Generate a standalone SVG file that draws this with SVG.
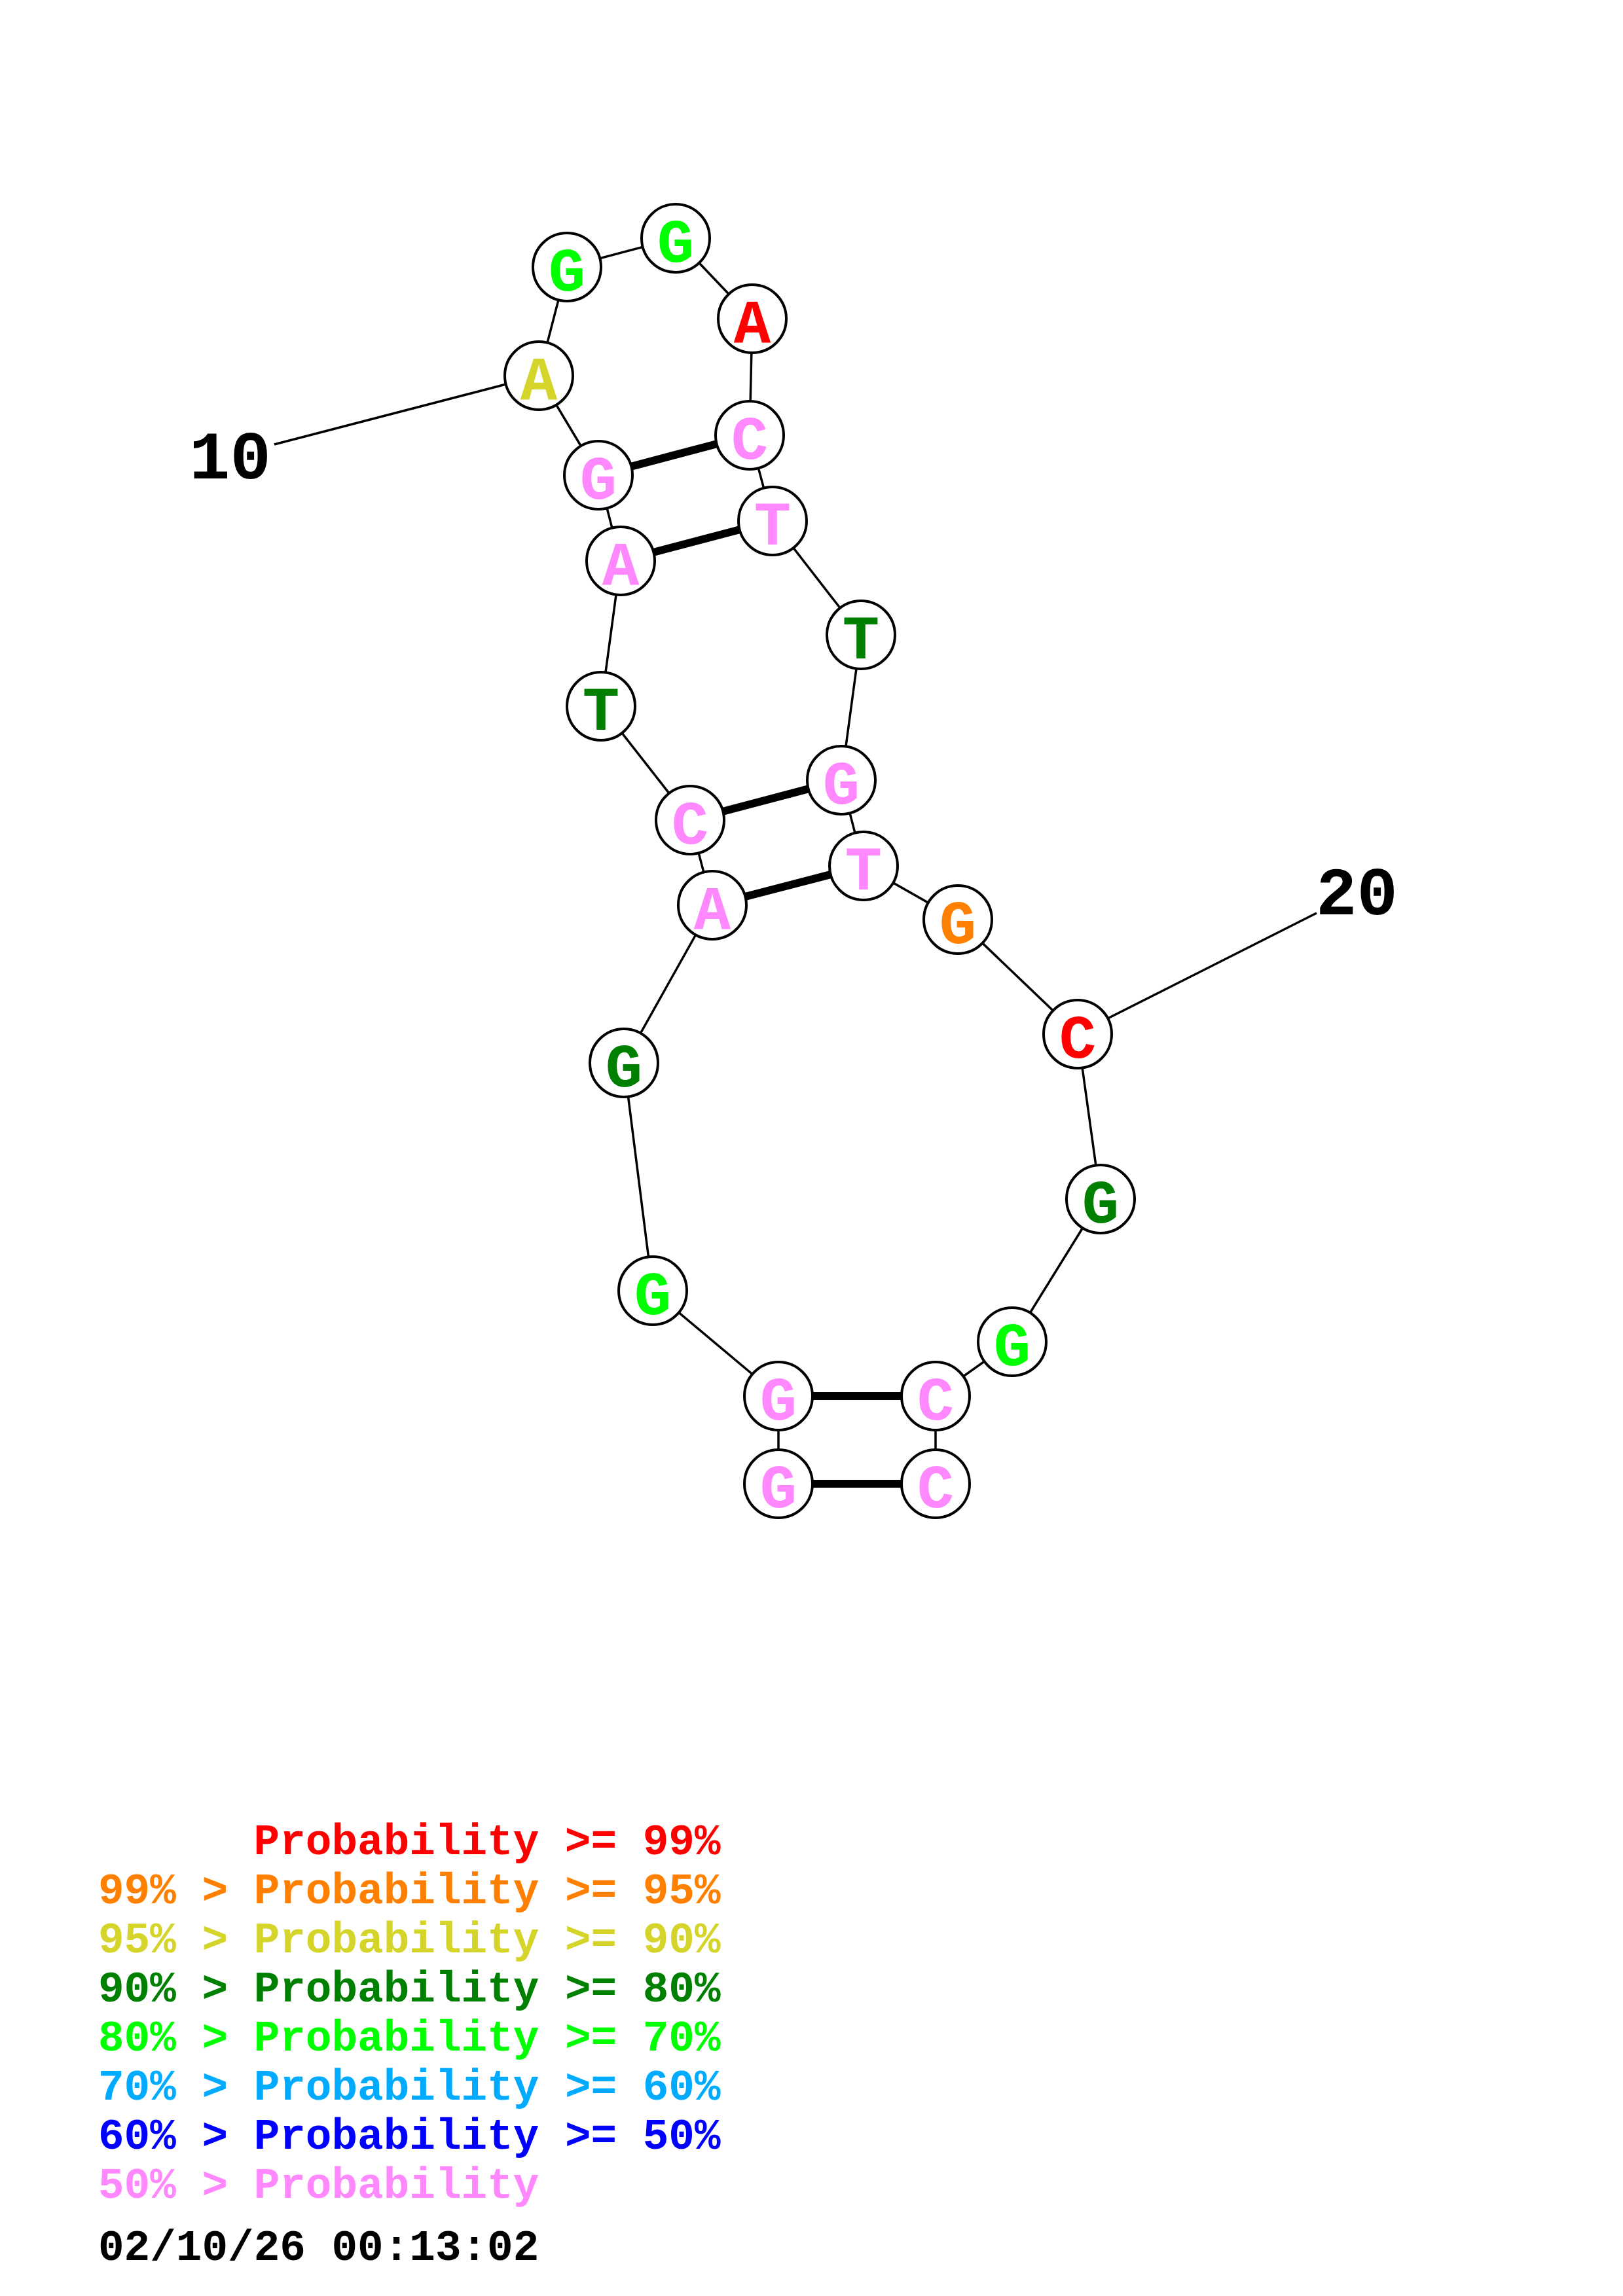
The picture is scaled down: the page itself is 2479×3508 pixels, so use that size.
<svg xmlns="http://www.w3.org/2000/svg" width="2479" height="3508" viewBox="0 0 2479 3508">
<style>
.bb{stroke:#000;stroke-width:3.5;fill:none}
.bp{stroke:#000;stroke-width:12;fill:none}
.nc{fill:#fff;stroke:#000;stroke-width:4}
.nt{font-family:"Liberation Mono","DejaVu Sans Mono",monospace;font-weight:bold;font-size:94px;text-anchor:middle}
.lab{font-family:"Liberation Mono","DejaVu Sans Mono",monospace;font-weight:bold;font-size:104px;fill:#000}
.lg{font-family:"Liberation Mono","DejaVu Sans Mono",monospace;font-weight:bold;font-size:66px}
.red{fill:#FF0000}.org{fill:#FF8000}.yel{fill:#D4D42A}.dkg{fill:#008000}.grn{fill:#00FF00}.lbl{fill:#00AAFF}.blu{fill:#0000FF}.pnk{fill:#FF88FF}
</style>
<rect width="2479" height="3508" fill="#fff"/>
<g id="connectors">
<polyline class="bb" points="1189,2267 1189,2133 997,1972 953,1624 1088,1383 1054,1253 918,1079 948,857 914,726 823,574 866,408 1032,364 1149,487 1145,665 1180,796 1315,970 1285,1192 1319,1323 1463,1405 1646,1580 1681,1832 1546,2050 1429,2133 1429,2267"/>
<line class="bp" x1="1189" y1="2267" x2="1429" y2="2267"/>
<line class="bp" x1="1189" y1="2133" x2="1429" y2="2133"/>
<line class="bp" x1="1088" y1="1383" x2="1319" y2="1323"/>
<line class="bp" x1="1054" y1="1253" x2="1285" y2="1192"/>
<line class="bp" x1="948" y1="857" x2="1180" y2="796"/>
<line class="bp" x1="914" y1="726" x2="1145" y2="665"/>
<line class="bb" x1="419" y1="679" x2="773" y2="587"/>
<line class="bb" x1="2011" y1="1395" x2="1692" y2="1556"/>
</g>
<g id="n1"><circle class="nc" cx="1189" cy="2267" r="52"/><text class="nt pnk" x="1189" y="2303">G</text></g>
<g id="n2"><circle class="nc" cx="1189" cy="2133" r="52"/><text class="nt pnk" x="1189" y="2169">G</text></g>
<g id="n3"><circle class="nc" cx="997" cy="1972" r="52"/><text class="nt grn" x="997" y="2008">G</text></g>
<g id="n4"><circle class="nc" cx="953" cy="1624" r="52"/><text class="nt dkg" x="953" y="1660">G</text></g>
<g id="n5"><circle class="nc" cx="1088" cy="1383" r="52"/><text class="nt pnk" x="1088" y="1419">A</text></g>
<g id="n6"><circle class="nc" cx="1054" cy="1253" r="52"/><text class="nt pnk" x="1054" y="1289">C</text></g>
<g id="n7"><circle class="nc" cx="918" cy="1079" r="52"/><text class="nt dkg" x="918" y="1115">T</text></g>
<g id="n8"><circle class="nc" cx="948" cy="857" r="52"/><text class="nt pnk" x="948" y="893">A</text></g>
<g id="n9"><circle class="nc" cx="914" cy="726" r="52"/><text class="nt pnk" x="914" y="762">G</text></g>
<g id="n10"><circle class="nc" cx="823" cy="574" r="52"/><text class="nt yel" x="823" y="610">A</text></g>
<g id="n11"><circle class="nc" cx="866" cy="408" r="52"/><text class="nt grn" x="866" y="444">G</text></g>
<g id="n12"><circle class="nc" cx="1032" cy="364" r="52"/><text class="nt grn" x="1032" y="400">G</text></g>
<g id="n13"><circle class="nc" cx="1149" cy="487" r="52"/><text class="nt red" x="1149" y="523">A</text></g>
<g id="n14"><circle class="nc" cx="1145" cy="665" r="52"/><text class="nt pnk" x="1145" y="701">C</text></g>
<g id="n15"><circle class="nc" cx="1180" cy="796" r="52"/><text class="nt pnk" x="1180" y="832">T</text></g>
<g id="n16"><circle class="nc" cx="1315" cy="970" r="52"/><text class="nt dkg" x="1315" y="1006">T</text></g>
<g id="n17"><circle class="nc" cx="1285" cy="1192" r="52"/><text class="nt pnk" x="1285" y="1228">G</text></g>
<g id="n18"><circle class="nc" cx="1319" cy="1323" r="52"/><text class="nt pnk" x="1319" y="1359">T</text></g>
<g id="n19"><circle class="nc" cx="1463" cy="1405" r="52"/><text class="nt org" x="1463" y="1441">G</text></g>
<g id="n20"><circle class="nc" cx="1646" cy="1580" r="52"/><text class="nt red" x="1646" y="1616">C</text></g>
<g id="n21"><circle class="nc" cx="1681" cy="1832" r="52"/><text class="nt dkg" x="1681" y="1868">G</text></g>
<g id="n22"><circle class="nc" cx="1546" cy="2050" r="52"/><text class="nt grn" x="1546" y="2086">G</text></g>
<g id="n23"><circle class="nc" cx="1429" cy="2133" r="52"/><text class="nt pnk" x="1429" y="2169">C</text></g>
<g id="n24"><circle class="nc" cx="1429" cy="2267" r="52"/><text class="nt pnk" x="1429" y="2303">C</text></g>
<g id="labels">
<text class="lab" x="289" y="731">10</text>
<text class="lab" x="2010" y="1397">20</text>
</g>
<g id="legend">
<text class="lg red" x="387.6" y="2833">Probability &gt;= 99%</text>
<text class="lg org" x="150" y="2908">99% &gt; Probability &gt;= 95%</text>
<text class="lg yel" x="150" y="2983">95% &gt; Probability &gt;= 90%</text>
<text class="lg dkg" x="150" y="3058">90% &gt; Probability &gt;= 80%</text>
<text class="lg grn" x="150" y="3133">80% &gt; Probability &gt;= 70%</text>
<text class="lg lbl" x="150" y="3208">70% &gt; Probability &gt;= 60%</text>
<text class="lg blu" x="150" y="3283">60% &gt; Probability &gt;= 50%</text>
<text class="lg pnk" x="150" y="3358">50% &gt; Probability</text>
<text class="lg" x="150" y="3453" fill="#000">02/10/26 00:13:02</text>
</g>
</svg>
